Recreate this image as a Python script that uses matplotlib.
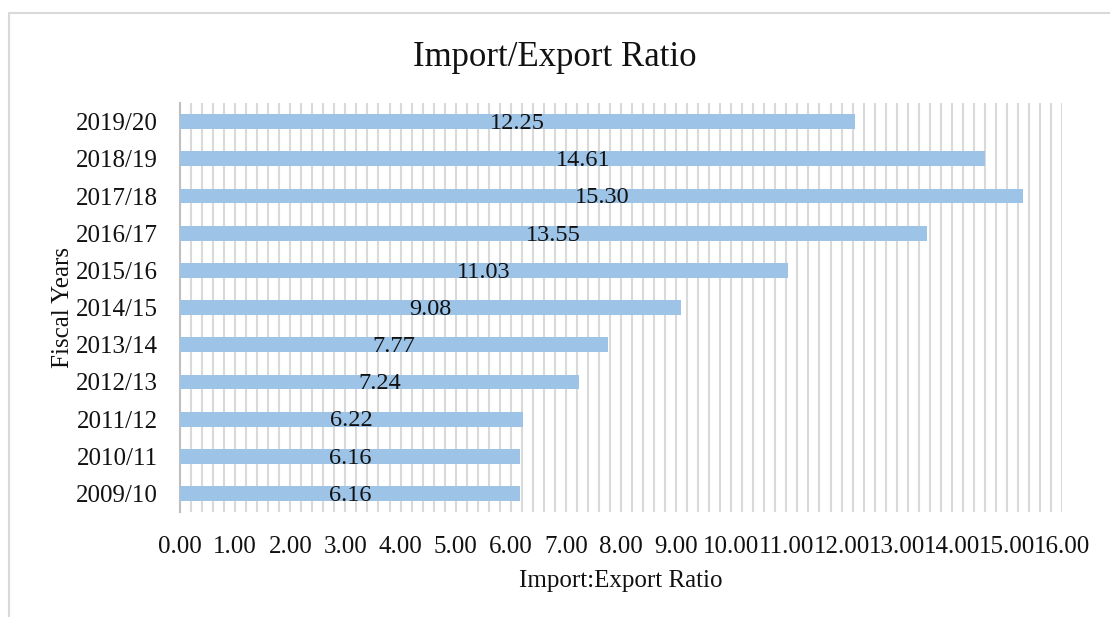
import matplotlib
matplotlib.use("Agg")
import matplotlib.pyplot as plt
from matplotlib.patches import Rectangle
from matplotlib.ticker import MultipleLocator
import numpy as np

years = ["2009/10", "2010/11", "2011/12", "2012/13", "2013/14", "2014/15",
         "2015/16", "2016/17", "2017/18", "2018/19", "2019/20"]
ratio = [6.16, 6.16, 6.22, 7.24, 7.77, 9.08, 11.03, 13.55, 15.30, 14.61, 12.25]
x_ticks = np.arange(0, 17, 1)

plt.rcParams["font.family"] = ["Liberation Serif", "DejaVu Serif"]

fig = plt.figure(figsize=(11.1, 6.17), dpi=100)
ax = fig.add_axes([0.1622, 0.170, 0.7946, 0.663])

# outer chart frame
fig.patches.append(Rectangle((9 / 1110, -0.01), 1.0, 1 - 13 / 617 + 0.01,
                             transform=fig.transFigure, fill=False,
                             edgecolor="#d9d9d9", lw=1.5))

y = np.arange(len(years))
ax.barh(y, ratio, height=0.4, color="#9dc3e6", zorder=3)
for yi, v in zip(y, ratio):
    ax.text(v / 2, yi - 0.05, f"{v:.2f}", ha="center", va="center", fontsize=17.5,
            color="#111111", zorder=4)

ax.set_xlim(0, 16)
ax.set_ylim(-0.5, len(years) - 0.5)
ax.set_xticks(x_ticks, [f"{t:.2f}" for t in x_ticks])
ax.xaxis.set_minor_locator(MultipleLocator(0.2))
ax.grid(axis="x", which="both", color="#d9d9d9", lw=1.5, zorder=0)
ax.set_yticks(y, years)
ax.tick_params(axis="both", which="both", length=0, labelsize=18, labelcolor="#111111")
ax.tick_params(axis="y", pad=16)
ax.tick_params(axis="x", pad=17)
for s in ["top", "right", "bottom"]:
    ax.spines[s].set_visible(False)
ax.spines["left"].set_color("#bfbfbf")
ax.spines["left"].set_linewidth(1.5)

ax.set_xlabel("Import:Export Ratio", fontsize=18, labelpad=9, color="#111111")
ax.set_ylabel("Fiscal Years", fontsize=18, labelpad=1, color="#111111")
fig.text(0.5, 1 - 58 / 617, "Import/Export Ratio", ha="center", va="center",
         fontsize=25, color="#111111")

fig.savefig("out.png", dpi=100)
